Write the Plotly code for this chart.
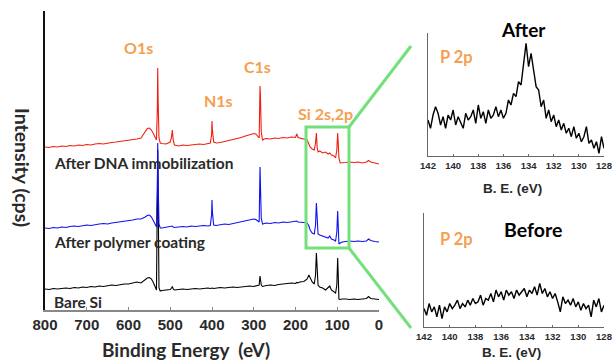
import plotly.graph_objects as go

# ---------------- data ----------------
energy = [800, 790, 780, 770, 760, 750, 740, 730, 720, 710,
          700, 690, 680, 670, 660, 650, 640, 630, 620, 610,
          600, 590, 580, 570, 560, 555, 550, 545, 540, 536,
          533, 531, 530, 529, 527, 524, 520, 510, 500, 497,
          495, 493, 490, 480, 470, 460, 450, 440, 430, 420,
          410, 404, 401, 400, 399, 396, 390, 380, 370, 360,
          350, 340, 330, 320, 310, 300, 295, 290, 287, 285,
          284, 282, 279, 275, 270, 260, 250, 240, 230, 220,
          210, 200, 197, 194, 190, 180, 172, 168, 165, 160,
          155, 152, 150, 148, 146, 142, 135, 128, 122, 118,
          114, 108, 104, 101, 99, 98, 96, 93, 88, 80,
          70, 60, 50, 40, 30, 25, 20, 10, 0]

# read as pixel heights from the picture (310 - y)
dna_py = [147, 147.5, 146.5, 147, 146, 146.5, 145.5, 146, 145, 145.5,
          144.5, 145, 144, 143.5, 144, 143, 142.5, 142, 141.5, 141,
          140.5, 140, 139, 138, 131, 128.5, 128, 130, 134, 138,
          140, 110, 68, 100, 138, 143, 143.5, 144, 142, 137,
          130, 140, 145, 146, 145, 145.5, 145, 144.5, 144, 144.5,
          143.5, 143, 135, 121, 130, 142, 143, 142.5, 141.5, 141,
          140, 139, 137.5, 136, 134.5, 133.5, 134, 137, 138, 86,
          95, 132, 140, 139, 138.5, 139, 138, 138.5, 137.5, 138,
          137, 137.5, 134, 137.5, 138, 139, 140, 144, 147, 149,
          150, 143, 133, 148, 152, 151, 153, 152, 154, 153,
          155, 156, 158, 150, 133, 140, 158, 163, 163, 162.5,
          162, 162.5, 162, 163, 162, 160.5, 162, 163, 164]

polymer_py = [228, 228.5, 227.5, 228, 227, 227.5, 226.5, 226, 226.5, 225.5,
              225, 225.5, 224.5, 224, 223.5, 224, 223, 222.5, 222, 221.5,
              221, 220, 219, 219, 217, 215.5, 215, 217, 221, 225,
              227, 190, 143, 180, 224, 228, 228, 227.5, 227, 226.5,
              226, 227, 227.5, 227, 226.5, 227, 226, 226.5, 226, 225.5,
              226, 225.5, 215, 200, 212, 225, 225.5, 225, 224, 224.5,
              223.5, 223, 222, 221, 220, 219, 219.5, 221, 222, 167,
              180, 218, 224, 223.5, 223, 223.5, 222.5, 223, 222, 222.5,
              222, 221.5, 221, 222, 222, 222.5, 223, 226, 230, 233,
              234, 225, 203, 225, 234, 235, 236, 236.5, 238, 236,
              239, 240, 241, 232, 211, 222, 244, 243, 242, 241.5,
              241, 241.5, 241, 241.5, 241, 239, 240.5, 241.5, 242]

bare_py = [289, 289.5, 288.5, 289, 288.5, 288, 288.5, 287.5, 288, 287,
           287.5, 286.5, 287, 286, 286.5, 285.5, 285, 285.5, 284.5, 284,
           284, 283, 282, 283, 280, 278, 277.5, 279, 283, 287,
           290, 200, 150, 190, 288, 291, 290.5, 290, 289.5, 288,
           286.5, 289, 290, 289.5, 289, 289.5, 289, 288.5, 289, 288.5,
           288, 288.5, 288, 287.5, 288, 288.5, 288, 287.5, 288, 287.5,
           287, 287.5, 287, 286.5, 286, 286.5, 286, 286, 285, 276,
           279, 285, 286.5, 286, 285.5, 285, 285.5, 284.5, 284, 283.5,
           283, 283.5, 282.5, 283, 282, 281.5, 279, 275, 278, 282,
           284, 275, 253, 270, 285, 287, 288, 290, 287, 286,
           290, 292, 293, 285, 258, 270, 299, 299.5, 299, 299,
           299.5, 299, 299.5, 299, 298.5, 296.5, 298.5, 299, 299.5]

int_dna = [310 - v for v in dna_py]
int_polymer = [310 - v for v in polymer_py]
int_bare = [310 - v for v in bare_py]

p2p_energy = [142.0, 141.8, 141.6, 141.4, 141.2, 141.0, 140.8, 140.6, 140.4, 140.2,
              140.0, 139.8, 139.6, 139.4, 139.2, 139.0, 138.8, 138.6, 138.4, 138.2,
              138.0, 137.8, 137.6, 137.4, 137.2, 137.0, 136.8, 136.6, 136.4, 136.2,
              136.0, 135.8, 135.6, 135.4, 135.2, 135.0, 134.8, 134.6, 134.4, 134.2,
              134.0, 133.8, 133.6, 133.4, 133.2, 133.0, 132.8, 132.6, 132.4, 132.2,
              132.0, 131.8, 131.6, 131.4, 131.2, 131.0, 130.8, 130.6, 130.4, 130.2,
              130.0, 129.8, 129.6, 129.4, 129.2, 129.0, 128.8, 128.6, 128.4, 128.2,
              128.0]

p2p_after = [36, 27.7, 41, 49.3, 42.7, 31, 39.3, 27.7, 41, 36,
             46, 31, 39.3, 34.3, 27.7, 42.7, 36, 39.3, 46, 32.7,
             51, 37.7, 44.3, 32.7, 46, 37.7, 41, 49.3, 39.3, 46,
             37.7, 42.7, 56, 51, 62.7, 59.3, 74.3, 71, 89.3, 112.7,
             89.3, 102.7, 86, 69.3, 66, 49.3, 56, 37.7, 46, 34.3,
             41, 29.3, 36, 26, 32.7, 22.7, 27.7, 19.3, 29.3, 17.7,
             22.7, 14.3, 19.3, 29.3, 12.7, 16, 7.7, 14.3, 2.7, 19.3,
             7.7]

p2p_before = [18.3, 11.7, 23.3, 15, 20, 10, 21.7, 8.3, 20, 15,
              23.3, 18.3, 21.7, 26.7, 18.3, 23.3, 20, 26.7, 21.7, 28.3,
              23.3, 25, 31.7, 21.7, 28.3, 26.7, 33.3, 25, 36.7, 30,
              35, 26.7, 36.7, 31.7, 35, 28.3, 36.7, 31.7, 35, 38.3,
              30, 36.7, 33.3, 40, 31.7, 43.3, 33.3, 38.3, 30, 35,
              28.3, 33.3, 25, 15, 30, 23.3, 26.7, 21.7, 28.3, 20,
              25, 16.7, 23.3, 18.3, 21.7, 10, 26.7, 20, 28.3, 15,
              21.7]

main_ticks = [800, 700, 600, 500, 400, 300, 200, 100, 0]
inset_ticks = [142, 140, 138, 136, 134, 132, 130, 128]

# ---------------- figure ----------------
W, H = 612, 360
def px(x):
    return x / W
def py(y):
    return 1 - y / H

ORANGE = "#F5A050"
GREEN = "#74E07C"
TXT = "#2a2a2a"
FONT = "Lato"

fig = go.Figure()
fig.add_trace(go.Scatter(x=energy, y=int_bare, mode="lines",
                         line=dict(color="black", width=1.1), xaxis="x", yaxis="y"))
fig.add_trace(go.Scatter(x=energy, y=int_polymer, mode="lines",
                         line=dict(color="#1010F0", width=1.1), xaxis="x", yaxis="y"))
fig.add_trace(go.Scatter(x=energy, y=int_dna, mode="lines",
                         line=dict(color="#F02010", width=1.1), xaxis="x", yaxis="y"))
fig.add_trace(go.Scatter(x=p2p_energy, y=p2p_after, mode="lines",
                         line=dict(color="black", width=1.4), xaxis="x2", yaxis="y2"))
fig.add_trace(go.Scatter(x=p2p_energy, y=p2p_before, mode="lines",
                         line=dict(color="black", width=1.4), xaxis="x3", yaxis="y3"))

axis_common = dict(showgrid=False, zeroline=False, showline=True, automargin=False,
                   ticklabeloverflow="allow")

fig.update_layout(
    template="none",
    width=W, height=H, margin=dict(l=0, r=0, t=0, b=0, pad=0),
    paper_bgcolor="white", plot_bgcolor="white", showlegend=False, hovermode=False,
    xaxis=dict(**axis_common, domain=[px(45), px(379)], range=[800, 0], anchor="y",
               tickvals=main_ticks, ticks="inside", ticklen=3, tickcolor="#888",
               linecolor="#888", linewidth=1.5,
               tickfont=dict(family="Liberation Sans", size=15, color=TXT, weight="bold")),
    yaxis=dict(**axis_common, domain=[py(310), py(11)], range=[0, 299], anchor="x",
               showticklabels=False, ticks="", linecolor="#111", linewidth=2),
    xaxis2=dict(**axis_common, domain=[px(428), px(604)], range=[142, 128], anchor="y2",
                tickvals=inset_ticks, ticks="inside", ticklen=2, tickcolor="#666",
                linecolor="#666", linewidth=1.2,
                tickfont=dict(family="Liberation Sans", size=9.5, color=TXT, weight="bold")),
    yaxis2=dict(**axis_common, domain=[py(156), py(33)], range=[0, 123], anchor="x2",
                showticklabels=False, ticks="", linecolor="#666", linewidth=1.2),
    xaxis3=dict(**axis_common, domain=[px(424), px(604)], range=[142, 128], anchor="y3",
                tickvals=inset_ticks, ticks="inside", ticklen=2, tickcolor="#666",
                linecolor="#666", linewidth=1.2,
                tickfont=dict(family="Liberation Sans", size=9.5, color=TXT, weight="bold")),
    yaxis3=dict(**axis_common, domain=[py(327), py(213)], range=[0, 113.3], anchor="x3",
                showticklabels=False, ticks="", linecolor="#666", linewidth=1.2),
)

def note(text, x, y, size, color=TXT, xanchor="center", angle=0, family=FONT):
    fig.add_annotation(text=f"<b>{text}</b>", x=px(x), y=py(y), xref="paper", yref="paper",
                       showarrow=False, xanchor=xanchor, yanchor="middle", textangle=angle,
                       font=dict(family=family, size=size, color=color))

note("Binding Energy  (eV)", 186, 349, 19)
note("Intensity (cps)", 23, 167, 19.5, angle=90)
note("O1s", 138, 48, 16, ORANGE)
note("N1s", 218, 100, 16, ORANGE)
note("C1s", 257, 66, 16, ORANGE)
note("Si 2s,2p", 325, 113, 16, ORANGE)
note("After DNA immobilization", 52, 163, 15.5, TXT, xanchor="left")
note("After polymer coating", 52, 242, 15.5, TXT, xanchor="left")
note("Bare Si", 52, 302, 15.5, TXT, xanchor="left")
note("After", 523, 29, 19, "black")
note("Before", 533, 229, 19.5, "black")
note("P 2p", 438, 57, 16.5, ORANGE, xanchor="left")
note("P 2p", 438, 239, 16.5, ORANGE, xanchor="left")
note("B. E. (eV)", 512, 188, 13.5, TXT, family="Liberation Sans")
note("B. E. (eV)", 511, 352, 13.5, TXT, family="Liberation Sans")

# zoom box and connector lines
fig.add_shape(type="rect", x0=px(306), x1=px(349), y0=py(248), y1=py(127),
              xref="paper", yref="paper", line=dict(color=GREEN, width=3))
fig.add_shape(type="line", x0=px(349), y0=py(127), x1=px(411), y1=py(46),
              xref="paper", yref="paper", line=dict(color=GREEN, width=3))
fig.add_shape(type="line", x0=px(349), y0=py(248), x1=px(411), y1=py(328),
              xref="paper", yref="paper", line=dict(color=GREEN, width=3))

fig.write_html("out.html", config={"staticPlot": True, "displayModeBar": False},
               post_script="document.body.style.margin='0';")
